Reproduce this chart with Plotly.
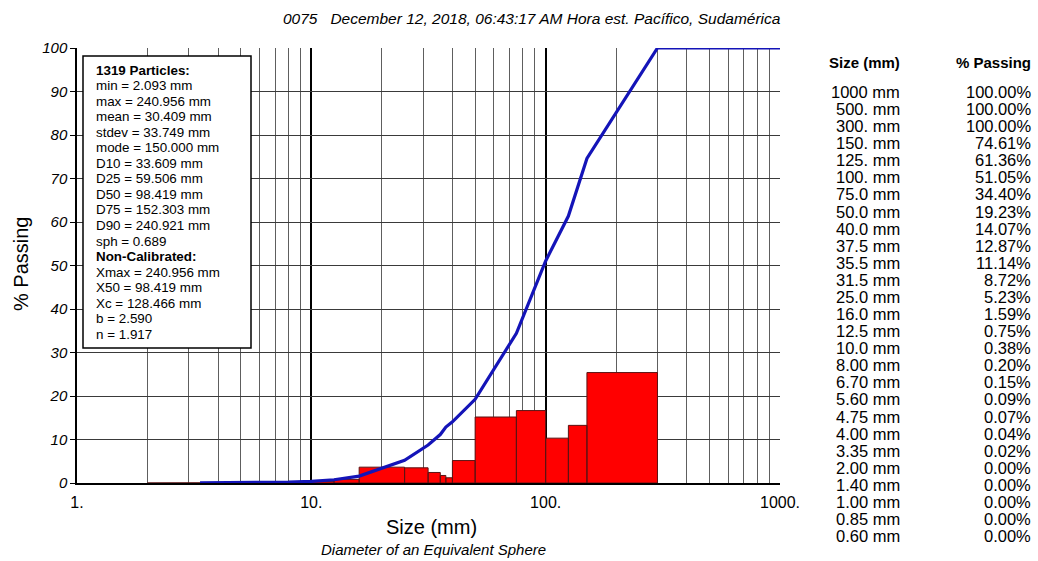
import plotly.graph_objects as go

# ---------------- data ----------------
sieve_sizes = [1000, 500, 300, 150, 125, 100, 75, 50, 40, 37.5, 35.5, 31.5, 25,
               16, 12.5, 10, 8, 6.7, 5.6, 4.75, 4, 3.35, 2, 1.4, 1, 0.85, 0.6]
size_labels = ["1000 mm", "500. mm", "300. mm", "150. mm", "125. mm", "100. mm",
               "75.0 mm", "50.0 mm", "40.0 mm", "37.5 mm", "35.5 mm", "31.5 mm",
               "25.0 mm", "16.0 mm", "12.5 mm", "10.0 mm", "8.00 mm", "6.70 mm",
               "5.60 mm", "4.75 mm", "4.00 mm", "3.35 mm", "2.00 mm", "1.40 mm",
               "1.00 mm", "0.85 mm", "0.60 mm"]
pct_passing = [100.00, 100.00, 100.00, 74.61, 61.36, 51.05, 34.40, 19.23, 14.07,
               12.87, 11.14, 8.72, 5.23, 1.59, 0.75, 0.38, 0.20, 0.15, 0.09, 0.07,
               0.04, 0.02, 0.00, 0.00, 0.00, 0.00, 0.00]

# histogram bins (mm) and % retained in each
bin_lower = [2.00, 3.35, 4.00, 4.75, 5.60, 6.70, 8.00, 10.0, 12.5, 16.0, 25.0,
             31.5, 35.5, 37.5, 40.0, 50.0, 75.0, 100.0, 125.0, 150.0]
bin_upper = [3.35, 4.00, 4.75, 5.60, 6.70, 8.00, 10.0, 12.5, 16.0, 25.0, 31.5,
             35.5, 37.5, 40.0, 50.0, 75.0, 100.0, 125.0, 150.0, 300.0]
pct_retained = [0.02, 0.02, 0.03, 0.02, 0.06, 0.05, 0.18, 0.37, 0.84, 3.64, 3.49,
                2.42, 1.73, 1.20, 5.16, 15.17, 16.65, 10.31, 13.25, 25.39]

stats_lines = ["<b>1319 Particles:</b>", "min = 2.093 mm", "max = 240.956 mm",
               "mean = 30.409 mm", "stdev = 33.749 mm", "mode = 150.000 mm",
               "D10 = 33.609 mm", "D25 = 59.506 mm", "D50 = 98.419 mm",
               "D75 = 152.303 mm", "D90 = 240.921 mm", "sph = 0.689",
               "<b>Non-Calibrated:</b>", "Xmax = 240.956 mm", "X50 = 98.419 mm",
               "Xc = 128.466 mm", "b = 2.590", "n = 1.917"]

x_tick_vals = [1, 10, 100, 1000]
x_tick_text = ["1.", "10.", "100.", "1000."]
x_minor_vals = [m * d for d in (1, 10, 100) for m in range(2, 10)]
y_tick_vals = list(range(0, 101, 10))

title_text = "0075   December 12, 2018, 06:43:17 AM Hora est. Pacífico, Sudamérica"

# ---------------- layout geometry (page pixels) ----------------
W, H = 1038, 561
L, R, T, B = 77, 780, 48, 483   # plot area in page pixels
FONT = "Liberation Sans, Arial, sans-serif"


def px(x):
    return (x - L) / (R - L)


def py(y):
    return (B - y) / (B - T)


fig = go.Figure()

# histogram bars as filled polygons on the log axis
bx, by = [], []
for lo, hi, h in zip(bin_lower, bin_upper, pct_retained):
    bx += [lo, lo, hi, hi, lo, None]
    by += [0, h, h, 0, 0, None]
fig.add_trace(go.Scatter(x=bx, y=by, mode="lines", fill="toself",
                         fillcolor="#FF0000", line=dict(color="#5A1414", width=1),
                         hoverinfo="skip", showlegend=False))

# cumulative passing curve
curve = sorted([(s, p) for s, p in zip(sieve_sizes, pct_passing) if s >= 3.35])
fig.add_trace(go.Scatter(x=[c[0] for c in curve], y=[c[1] for c in curve],
                         mode="lines", line=dict(color="#1414B8", width=3.2),
                         showlegend=False))

fig.update_layout(
    width=W, height=H,
    margin=dict(l=L, r=W - R, t=T, b=H - B),
    paper_bgcolor="white", plot_bgcolor="white",
    font=dict(family=FONT, color="black"),
    showlegend=False,
)

fig.update_xaxes(
    type="log", range=[0, 3],
    tickmode="array", tickvals=x_tick_vals, ticktext=x_tick_text,
    tickfont=dict(size=16, family=FONT, color="black"),
    ticks="", ticklabelstandoff=4,
    showgrid=True, gridcolor="black", gridwidth=2,
    minor=dict(tickmode="array", tickvals=x_minor_vals, showgrid=True,
               gridcolor="#5E5E5E", gridwidth=1.2, ticks=""),
    showline=True, linecolor="black", linewidth=1.5,
    zeroline=False,
)
fig.update_yaxes(
    range=[0, 100], tickmode="array", tickvals=y_tick_vals,
    tickfont=dict(size=15, family=FONT, color="black", style="italic"),
    ticks="outside", ticklen=5, tickcolor="black", tickwidth=1,
    showgrid=True, gridcolor="#3A3A3A", gridwidth=1,
    showline=True, linecolor="black", linewidth=1.5,
    zeroline=False,
)

ann = []
# title
ann.append(dict(text=title_text, x=px(532), y=py(18), xanchor="center",
                yanchor="middle", font=dict(size=15.5, style="italic", family=FONT)))
# axis titles
ann.append(dict(text="% Passing", x=px(21), y=py(264), xanchor="center",
                yanchor="middle", textangle=-90, font=dict(size=20, family=FONT)))
ann.append(dict(text="Size (mm)", x=px(431), y=py(527), xanchor="center",
                yanchor="middle", font=dict(size=20, family=FONT)))
ann.append(dict(text="Diameter of an Equivalent Sphere", x=px(433), y=py(549),
                xanchor="center", yanchor="middle",
                font=dict(size=15, style="italic", family=FONT)))

# stats box text
for i, line in enumerate(stats_lines):
    ann.append(dict(text=line, x=px(94), y=py(70 + i * 15.55), xanchor="left",
                    yanchor="middle", font=dict(size=13.4, family=FONT)))

# right-hand table
COL1, COL2 = 902, 1033
ann.append(dict(text="<b>Size (mm)</b>", x=px(COL1), y=py(63), xanchor="right",
                yanchor="middle", font=dict(size=15, family=FONT)))
ann.append(dict(text="<b>% Passing</b>", x=px(COL2), y=py(63), xanchor="right",
                yanchor="middle", font=dict(size=15, family=FONT)))
for i, (lab, p) in enumerate(zip(size_labels, pct_passing)):
    yy = 92 + i * 17.08
    ann.append(dict(text=lab, x=px(COL1), y=py(yy), xanchor="right",
                    yanchor="middle", font=dict(size=16.5, family=FONT)))
    ann.append(dict(text=f"{p:.2f}%", x=px(COL2), y=py(yy), xanchor="right",
                    yanchor="middle", font=dict(size=16.5, family=FONT)))

for a in ann:
    a.update(xref="paper", yref="paper", showarrow=False)
fig.update_layout(annotations=ann)

# statistics box
fig.add_shape(type="rect", xref="paper", yref="paper",
              x0=px(83), x1=px(251), y0=py(348), y1=py(56),
              fillcolor="white", line=dict(color="black", width=1.5),
              layer="above")

# place the figure flush with the page corner (remove default body margin)
fig.write_html("out.html",
               config={"displayModeBar": False},
               post_script="document.body.style.margin='0px';"
                           "document.body.style.overflow='hidden';")
